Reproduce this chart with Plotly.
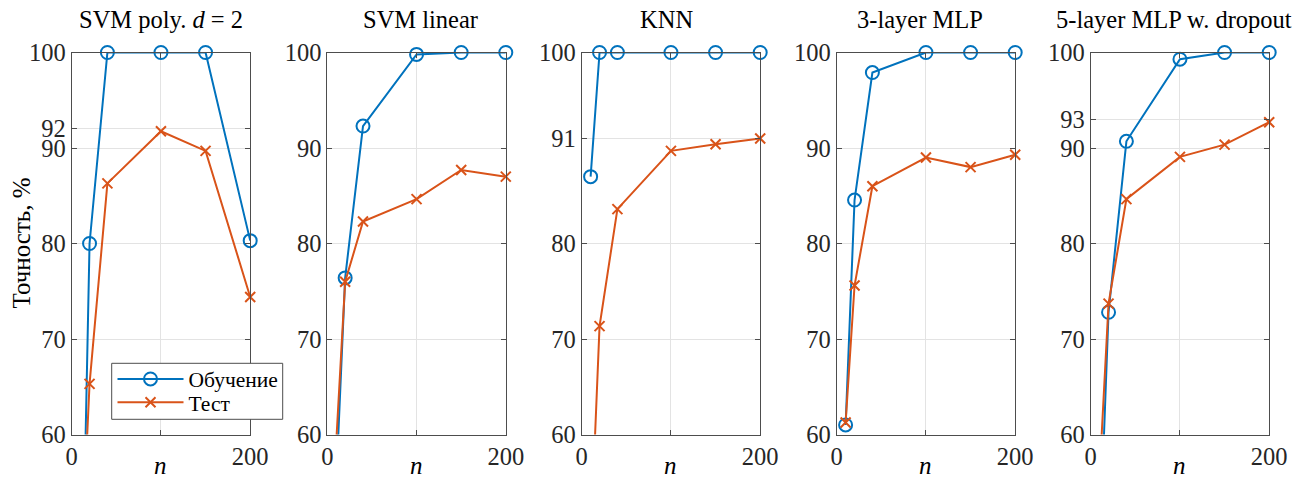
import plotly.graph_objects as go

# ---------------- data ----------------
n_values = [10, 20, 40, 100, 150, 200]

titles = ["SVM poly. <i>d</i> = 2", "SVM linear", "KNN", "3-layer MLP", "5-layer MLP w. dropout"]

svm_poly_train = [34.5, 80.0, 100.0, 100.0, 100.0, 80.3]
svm_poly_test = [45.0, 65.3, 86.3, 91.75, 89.7, 74.4]

svm_lin_train = [55.0, 76.4, 92.3, 99.8, 100.0, 100.0]
svm_lin_test = [59.2, 76.0, 82.3, 84.65, 87.7, 87.0]

knn_train = [87.0, 100.0, 100.0, 100.0, 100.0, 100.0]
knn_test = [48.6, 71.35, 83.6, 89.7, 90.4, 91.0]

mlp3_train = [61.0, 84.55, 97.9, 100.0, 100.0, 100.0]
mlp3_test = [61.25, 75.6, 86.0, 89.0, 88.0, 89.3]

mlp5_train = [47.7, 72.8, 90.7, 99.3, 100.0, 100.0]
mlp5_test = [55.9, 73.7, 84.65, 89.07, 90.35, 92.7]

y_ticks = [
    [60, 70, 80, 90, 92, 100],
    [60, 70, 80, 90, 100],
    [60, 70, 80, 91, 100],
    [60, 70, 80, 90, 100],
    [60, 70, 80, 90, 93, 100],
]
x_ticks = [0, 100, 200]
x_tick_labels = ["0", "", "200"]

train_name = "Обучение"
test_name = "Тест"
y_label = "Точность, %"
x_label = "<i>n</i>"

train_series = [svm_poly_train, svm_lin_train, knn_train, mlp3_train, mlp5_train]
test_series = [svm_poly_test, svm_lin_test, knn_test, mlp3_test, mlp5_test]

# ---------------- layout constants ----------------
W, H = 1306, 484
FONT = "Liberation Serif, Times New Roman, serif"
BLUE = "#0072BD"
ORANGE = "#D95319"
AX_COLOR = "#4d4d4d"
GRID_COLOR = "#e3e3e3"
TEXT_COLOR = "#262626"


def px(s):
    """screen x pixel -> paper fraction"""
    return s / W


def py(s):
    """screen y pixel (from top) -> paper fraction"""
    return (H - s) / H


lefts_px = [71.7, 327.3, 581.7, 836.7, 1090.7]
title_shift_px = [0, 4, -4, -6, -6]
width_px = 178.5
top_px, bottom_px = 52.5, 434.5

fig = go.Figure()

for i in range(5):
    ax = "" if i == 0 else str(i + 1)
    xref = "x" + ax
    yref = "y" + ax
    fig.add_trace(go.Scatter(
        x=n_values, y=train_series[i], name=train_name,
        mode="lines+markers", xaxis=xref, yaxis=yref,
        line=dict(color=BLUE, width=2),
        marker=dict(symbol="circle-open", size=13, color=BLUE, line=dict(width=2, color=BLUE)),
        cliponaxis=False, showlegend=(i == 0), legend="legend",
    ))
    fig.add_trace(go.Scatter(
        x=n_values, y=test_series[i], name=test_name,
        mode="lines+markers", xaxis=xref, yaxis=yref,
        line=dict(color=ORANGE, width=2),
        marker=dict(symbol="x-thin", size=10, color=ORANGE, line=dict(width=2, color=ORANGE)),
        cliponaxis=False, showlegend=(i == 0), legend="legend2",
    ))

    x0 = px(lefts_px[i])
    x1 = px(lefts_px[i] + width_px)
    y0 = py(bottom_px)
    y1 = py(top_px)

    common = dict(
        showline=True, linecolor=AX_COLOR, linewidth=1, mirror="allticks",
        ticks="inside", ticklen=5, tickcolor=AX_COLOR, tickwidth=1,
        showgrid=True, gridcolor=GRID_COLOR, gridwidth=1, zeroline=False,
        tickfont=dict(family=FONT, size=24.5, color=TEXT_COLOR),
        automargin=False,
    )
    fig.update_layout(**{
        "xaxis" + ax: dict(
            domain=[x0, x1], range=[0, 200], anchor=yref,
            tickmode="array", tickvals=x_ticks, ticktext=x_tick_labels,
            **common,
        ),
        "yaxis" + ax: dict(
            domain=[y0, y1], range=[60, 100], anchor=xref,
            tickmode="array", tickvals=y_ticks[i], ticktext=[str(v) for v in y_ticks[i]],
            **common,
        ),
    })

    # subplot title
    fig.add_annotation(
        x=px(lefts_px[i] + width_px / 2 + title_shift_px[i]), y=py(19),
        xref="paper", yref="paper",
        text=titles[i], showarrow=False, xanchor="center", yanchor="middle",
        font=dict(family=FONT, size=24.5, color="#000000"),
    )
    # x label
    fig.add_annotation(
        x=(x0 + x1) / 2, y=py(465), xref="paper", yref="paper",
        text=x_label, showarrow=False, xanchor="center", yanchor="middle",
        font=dict(family=FONT, size=25, color="#000000"),
    )

# y label
fig.add_annotation(
    x=px(21), y=py(243.5), xref="paper", yref="paper",
    text=y_label, showarrow=False, textangle=-90,
    xanchor="center", yanchor="middle",
    font=dict(family=FONT, size=25, color="#000000"),
)

# legend frame
fig.add_shape(
    type="rect", xref="paper", yref="paper",
    x0=px(111.7), x1=px(282.7), y0=py(419.3), y1=py(363.3),
    line=dict(color=AX_COLOR, width=1), fillcolor="white", layer="above",
)

legend_common = dict(
    xanchor="left", yanchor="middle", xref="paper", yref="paper",
    bgcolor="rgba(0,0,0,0)", borderwidth=0,
    font=dict(family=FONT, size=21.5, color="#000000"),
    itemwidth=66,
)

fig.update_layout(
    width=W, height=H, autosize=False,
    margin=dict(l=0, r=0, t=0, b=0, autoexpand=False),
    paper_bgcolor="white", plot_bgcolor="white",
    showlegend=True,
    legend=dict(x=px(112.5), y=py(379), **legend_common),
    legend2=dict(x=px(112.5), y=py(402.3), **legend_common),
)

fig.write_html(
    "out.html",
    config={"displayModeBar": False},
    post_script="document.body.style.margin='0px';document.body.style.overflow='hidden';",
)
